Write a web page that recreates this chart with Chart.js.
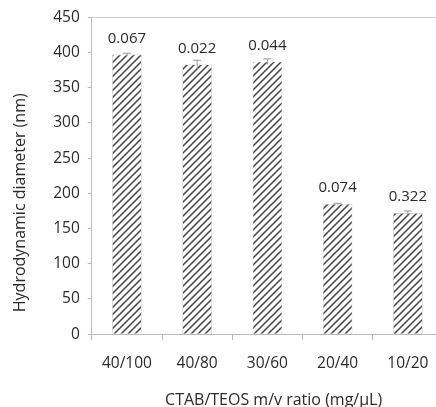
<!DOCTYPE html>
<html>
<head>
<meta charset="utf-8">
<script src="https://cdn.jsdelivr.net/npm/chart.js@4"></script>
<style>
  html, body { margin: 0; padding: 0; background: #fff; overflow: hidden; }
  #wrap { width: 436px; height: 407px; overflow: hidden; }
</style>
</head>
<body>
<div id="wrap"><canvas id="chart" width="443" height="412"></canvas></div>
<script>
const ratios = ['40/100', '40/80', '30/60', '20/40', '10/20'];
const diameters = [397, 383, 387, 185, 172];
const errors = [2, 6, 4, 1, 3];
const pdi = ['0.067', '0.022', '0.044', '0.074', '0.322'];

const font = '"Open Sans", sans-serif';
const textColor = '#2b2b2b';

// diagonal hatch ///
function hatch() {
	const s = 7;
	const c = document.createElement('canvas');
	c.width = s; c.height = s;
	const g = c.getContext('2d');
	g.fillStyle = '#fff';
	g.fillRect(0, 0, s, s);
	g.strokeStyle = '#444';
	g.lineWidth = 1.5;
	g.beginPath();
	g.moveTo(-1, s + 1); g.lineTo(s + 1, -1);
	g.moveTo(-1, 1); g.lineTo(1, -1);
	g.moveTo(s - 1, s + 1); g.lineTo(s + 1, s - 1);
	g.stroke();
	return g.createPattern(c, 'repeat');
}

const extras = {
	id: 'extras',
	afterDatasetsDraw(chart) {
		const ctx = chart.ctx;
		const y = chart.scales.y;
		const meta = chart.getDatasetMeta(0);
		ctx.save();
		meta.data.forEach((bar, i) => {
			// error bar
			const top = y.getPixelForValue(diameters[i] + errors[i]);
			const bot = y.getPixelForValue(diameters[i] - errors[i]);
			ctx.strokeStyle = '#999';
			ctx.lineWidth = 1;
			ctx.beginPath();
			ctx.moveTo(bar.x, top); ctx.lineTo(bar.x, bot);
			ctx.moveTo(bar.x - 4, top); ctx.lineTo(bar.x + 4, top);
			ctx.stroke();
			// PDI label
			ctx.fillStyle = textColor;
			ctx.font = '15px ' + font;
			ctx.textAlign = 'center';
			ctx.textBaseline = 'middle';
			ctx.fillText(pdi[i], bar.x, bar.y - 16);
		});
		ctx.restore();
	}
};

new Chart(document.getElementById('chart'), {
	type: 'bar',
	data: {
		labels: ratios,
		datasets: [{
			data: diameters,
			backgroundColor: hatch(),
			borderColor: '#bbb',
			borderWidth: 0.6,
			categoryPercentage: 1,
			barPercentage: 0.42
		}]
	},
	options: {
		responsive: false,
		animation: false,
		layout: { padding: { top: 7, right: 0, left: 11, bottom: 0 } },
		plugins: { legend: { display: false }, tooltip: { enabled: false } },
		scales: {
			x: {
				grid: {
					offset: true,
					drawOnChartArea: false,
					tickLength: 6,
					tickColor: '#bbb'
				},
				border: { color: '#bbb' },
				ticks: { color: textColor, font: { family: font, size: 15.5 }, padding: 14 },
				title: {
					display: true,
					// leading spaces nudge the title a little right, as in the original
					text: '   CTAB/TEOS m/v ratio (mg/µL)',
					color: textColor,
					font: { family: font, size: 16 },
					padding: { top: 4, bottom: 2 }
				}
			},
			y: {
				min: 0,
				max: 450,
				ticks: { stepSize: 50, color: textColor, font: { family: font, size: 15.5 }, padding: 8 },
				grid: {
					color: c => c.tick && c.tick.value === 450 ? '#ccc' : 'rgba(0,0,0,0)',
					tickColor: '#bbb',
					tickLength: 4
				},
				border: { color: '#bbb' },
				title: {
					display: true,
					// trailing spaces push the rotated title down toward the axis centre of the original
					text: 'Hydrodynamic diameter (nm)             ',
					color: textColor,
					font: { family: font, size: 16 },
					padding: { top: 0, bottom: 15 }
				}
			}
		}
	},
	plugins: [extras]
});
</script>
</body>
</html>
